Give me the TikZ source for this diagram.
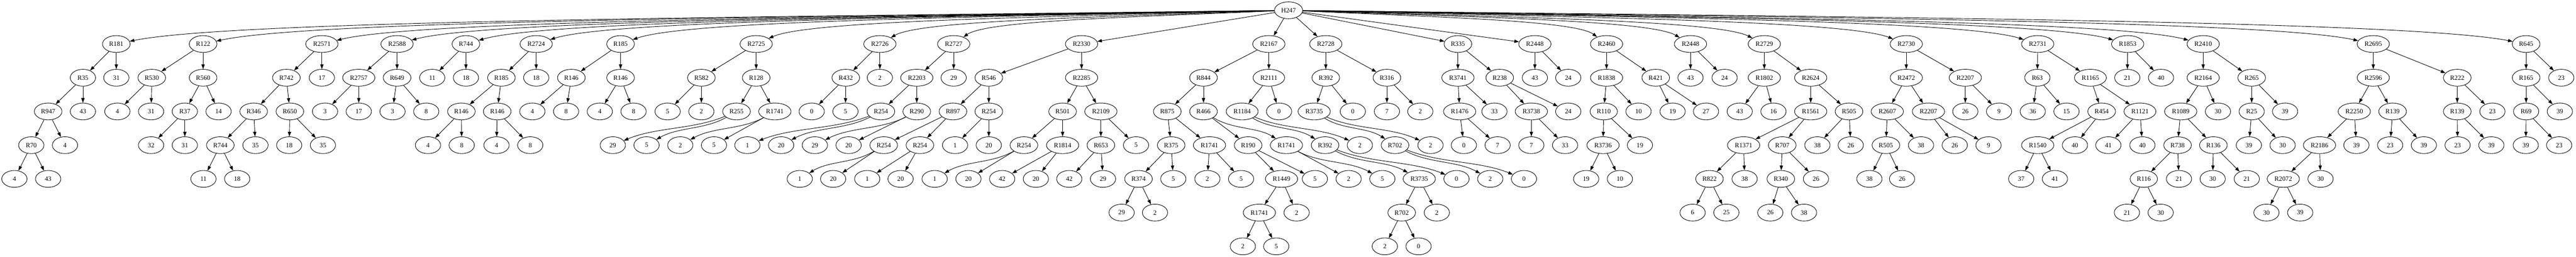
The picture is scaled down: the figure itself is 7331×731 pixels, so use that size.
\documentclass[tikz,border=0pt]{standalone}
\usepackage{fontspec}
\setmainfont{Liberation Serif}
\usetikzlibrary{arrows.meta,shapes.geometric,calc}
\tikzset{
  nd/.style={ellipse, draw, line width=1pt, minimum width=54pt, minimum height=36pt,
             inner xsep=5.7pt, inner ysep=0pt, font=\fontsize{14pt}{16pt}\selectfont},
  edg/.style={draw, line width=1pt, -{Triangle[length=10pt,width=7pt]}}
}
\newcommand\Nd[4]{\node[nd] (#1) at (#2,{29.3+96*#3}) {#4};}
\newcommand\EdS[2]{\draw[edg] (#1) -- (#2);}
\newcommand\EdC[2]{\draw[edg] (#1) .. controls ($(#1)!0.35!(#2)+(0,18)$) and ($(#1)!0.65!(#2)+(0,-18)$) .. (#2);}
\newcommand\EdR[1]{\draw[edg] (H) .. controls ($(H)!0.45!(#1)+(0,-24)$) and ($(#1)!0.1!(H)+(0,-58)$) .. (#1);}
\begin{document}
\begin{tikzpicture}[x=0.75pt,y=-0.75pt]
\path[fill=white] (0,0) rectangle (7331,731);
\useasboundingbox (0,0) rectangle (7331,731);
% level 0
\Nd{H}{3667}{0}{H247}
% level 1
\Nd{a181}{331}{1}{R181}
\Nd{a122}{578}{1}{R122}
\Nd{a2571}{916}{1}{R2571}
\Nd{a2588}{1130}{1}{R2588}
\Nd{a744}{1326}{1}{R744}
\Nd{a2724}{1526}{1}{R2724}
\Nd{a185}{1766}{1}{R185}
\Nd{a2725}{2152}{1}{R2725}
\Nd{a2726}{2504}{1}{R2726}
\Nd{a2727}{2714}{1}{R2727}
\Nd{a2330}{3078}{1}{R2330}
\Nd{a2167}{3611}{1}{R2167}
\Nd{a2728}{3773}{1}{R2728}
\Nd{a335}{4149}{1}{R335}
\Nd{a2448}{4368}{1}{R2448}
\Nd{a2460}{4572}{1}{R2460}
\Nd{a2448b}{4811}{1}{R2448}
\Nd{a2729}{5021}{1}{R2729}
\Nd{a2730}{5425}{1}{R2730}
\Nd{a2731}{5799}{1}{R2731}
\Nd{a1853}{6055}{1}{R1853}
\Nd{a2410}{6270}{1}{R2410}
\Nd{a2695}{6754}{1}{R2695}
\Nd{a645}{7189}{1}{R645}
% level 2
\Nd{b35}{236}{2}{R35}
\Nd{b31}{331}{2}{31}
\Nd{b530}{432}{2}{R530}
\Nd{b560}{578}{2}{R560}
\Nd{b742}{815}{2}{R742}
\Nd{b17}{916}{2}{17}
\Nd{b2757}{1021}{2}{R2757}
\Nd{b649}{1130}{2}{R649}
\Nd{b11}{1230}{2}{11}
\Nd{b18}{1326}{2}{18}
\Nd{b185}{1427}{2}{R185}
\Nd{b18b}{1526}{2}{18}
\Nd{b146}{1626}{2}{R146}
\Nd{b146b}{1766}{2}{R146}
\Nd{b582}{1996}{2}{R582}
\Nd{b128}{2152}{2}{R128}
\Nd{b432}{2407}{2}{R432}
\Nd{b2}{2504}{2}{2}
\Nd{b2203}{2609}{2}{R2203}
\Nd{b29}{2714}{2}{29}
\Nd{b546}{2814}{2}{R546}
\Nd{b2285}{3078}{2}{R2285}
\Nd{b844}{3425}{2}{R844}
\Nd{b2111}{3611}{2}{R2111}
\Nd{b392}{3773}{2}{R392}
\Nd{b316}{3947}{2}{R316}
\Nd{b3741}{4149}{2}{R3741}
\Nd{b238}{4268}{2}{R238}
\Nd{b43}{4368}{2}{43}
\Nd{b24}{4463}{2}{24}
\Nd{b1838}{4572}{2}{R1838}
\Nd{b421}{4712}{2}{R421}
\Nd{b43b}{4811}{2}{43}
\Nd{b24b}{4908}{2}{24}
\Nd{b1802}{5021}{2}{R1802}
\Nd{b2624}{5153}{2}{R2624}
\Nd{b2472}{5425}{2}{R2472}
\Nd{b2207}{5593}{2}{R2207}
\Nd{b63}{5798}{2}{R63}
\Nd{b1165}{5949}{2}{R1165}
\Nd{b21}{6054}{2}{21}
\Nd{b40}{6150}{2}{40}
\Nd{b2164}{6270}{2}{R2164}
\Nd{b265}{6408}{2}{R265}
\Nd{b2596}{6754}{2}{R2596}
\Nd{b222}{6993}{2}{R222}
\Nd{b165}{7189}{2}{R165}
\Nd{b23}{7289}{2}{23}
% level 3
\Nd{c947}{137}{3}{R947}
\Nd{c43}{236}{3}{43}
\Nd{c4}{334}{3}{4}
\Nd{c31}{430}{3}{31}
\Nd{c37}{526}{3}{R37}
\Nd{c14}{622}{3}{14}
\Nd{c346}{722}{3}{R346}
\Nd{c650}{825}{3}{R650}
\Nd{c3}{925}{3}{3}
\Nd{c17}{1021}{3}{17}
\Nd{c3b}{1117}{3}{3}
\Nd{c8}{1213}{3}{8}
\Nd{c146}{1313}{3}{R146}
\Nd{c146b}{1415}{3}{R146}
\Nd{c4b}{1515}{3}{4}
\Nd{c8b}{1611}{3}{8}
\Nd{c4c}{1707}{3}{4}
\Nd{c8c}{1803}{3}{8}
\Nd{c5}{1900}{3}{5}
\Nd{c2}{1996}{3}{2}
\Nd{c255}{2096}{3}{R255}
\Nd{c1741}{2205}{3}{R1741}
\Nd{c0}{2310}{3}{0}
\Nd{c5b}{2406}{3}{5}
\Nd{c254}{2507}{3}{R254}
\Nd{c290}{2609}{3}{R290}
\Nd{c897}{2712}{3}{R897}
\Nd{c254b}{2814}{3}{R254}
\Nd{c501}{3024}{3}{R501}
\Nd{c2109}{3133}{3}{R2109}
\Nd{c875}{3322}{3}{R875}
\Nd{c466}{3425}{3}{R466}
\Nd{c1184}{3535}{3}{R1184}
\Nd{c0b}{3640}{3}{0}
\Nd{c3735}{3740}{3}{R3735}
\Nd{c0c}{3850}{3}{0}
\Nd{c7}{3947}{3}{7}
\Nd{c2b}{4042}{3}{2}
\Nd{c1476}{4154}{3}{R1476}
\Nd{c33}{4253}{3}{33}
\Nd{c3738}{4358}{3}{R3738}
\Nd{c24}{4463}{3}{24}
\Nd{c110}{4564}{3}{R110}
\Nd{c10}{4663}{3}{10}
\Nd{c19}{4760}{3}{19}
\Nd{c27}{4855}{3}{27}
\Nd{c43b}{4951}{3}{43}
\Nd{c16}{5047}{3}{16}
\Nd{c1561}{5153}{3}{R1561}
\Nd{c505}{5262}{3}{R505}
\Nd{c2607}{5371}{3}{R2607}
\Nd{c2207}{5488}{3}{R2207}
\Nd{c26}{5593}{3}{26}
\Nd{c9}{5689}{3}{9}
\Nd{c36}{5785}{3}{36}
\Nd{c15}{5881}{3}{15}
\Nd{c454}{5981}{3}{R454}
\Nd{c1121}{6090}{3}{R1121}
\Nd{c1089}{6206}{3}{R1089}
\Nd{c30}{6312}{3}{30}
\Nd{c25}{6408}{3}{R25}
\Nd{c39}{6503}{3}{39}
\Nd{c2250}{6700}{3}{R2250}
\Nd{c139}{6809}{3}{R139}
\Nd{c139b}{6993}{3}{R139}
\Nd{c23}{7093}{3}{23}
\Nd{c69}{7189}{3}{R69}
\Nd{c39b}{7285}{3}{39}
% level 4
\Nd{d70}{89}{4}{R70}
\Nd{d4}{185}{4}{4}
\Nd{d32}{430}{4}{32}
\Nd{d31}{526}{4}{31}
\Nd{d744}{627}{4}{R744}
\Nd{d35}{727}{4}{35}
\Nd{d18}{823}{4}{18}
\Nd{d35b}{919}{4}{35}
\Nd{d4b}{1218}{4}{4}
\Nd{d8}{1314}{4}{8}
\Nd{d4c}{1413}{4}{4}
\Nd{d8b}{1509}{4}{8}
\Nd{d29}{1744}{4}{29}
\Nd{d5}{1840}{4}{5}
\Nd{d2}{1936}{4}{2}
\Nd{d5b}{2032}{4}{5}
\Nd{d1}{2127}{4}{1}
\Nd{d20}{2223}{4}{20}
\Nd{d29b}{2319}{4}{29}
\Nd{d20b}{2415}{4}{20}
\Nd{d254}{2515}{4}{R254}
\Nd{d254b}{2618}{4}{R254}
\Nd{d1b}{2718}{4}{1}
\Nd{d20c}{2814}{4}{20}
\Nd{d254c}{2914}{4}{R254}
\Nd{d1814}{3024}{4}{R1814}
\Nd{d653}{3133}{4}{R653}
\Nd{d5c}{3233}{4}{5}
\Nd{d375}{3333}{4}{R375}
\Nd{d1741}{3442}{4}{R1741}
\Nd{d190}{3552}{4}{R190}
\Nd{d1741b}{3661}{4}{R1741}
\Nd{d392}{3771}{4}{R392}
\Nd{d2b}{3870}{4}{2}
\Nd{d702}{3970}{4}{R702}
\Nd{d2c}{4071}{4}{2}
\Nd{d0}{4166}{4}{0}
\Nd{d7}{4262}{4}{7}
\Nd{d7b}{4358}{4}{7}
\Nd{d33}{4454}{4}{33}
\Nd{d3736}{4562}{4}{R3736}
\Nd{d19}{4667}{4}{19}
\Nd{d1371}{4962}{4}{R1371}
\Nd{d707}{5072}{4}{R707}
\Nd{d38}{5172}{4}{38}
\Nd{d26}{5267}{4}{26}
\Nd{d505}{5367}{4}{R505}
\Nd{d38b}{5467}{4}{38}
\Nd{d26b}{5563}{4}{26}
\Nd{d9}{5659}{4}{9}
\Nd{d1540}{5799}{4}{R1540}
\Nd{d40}{5905}{4}{40}
\Nd{d41}{6000}{4}{41}
\Nd{d40b}{6097}{4}{40}
\Nd{d738}{6197}{4}{R738}
\Nd{d136}{6299}{4}{R136}
\Nd{d39}{6400}{4}{39}
\Nd{d30}{6496}{4}{30}
\Nd{d2186}{6601}{4}{R2186}
\Nd{d39b}{6706}{4}{39}
\Nd{d23}{6802}{4}{23}
\Nd{d39c}{6898}{4}{39}
\Nd{d23b}{6994}{4}{23}
\Nd{d39d}{7090}{4}{39}
\Nd{d39e}{7188}{4}{39}
\Nd{d23c}{7283}{4}{23}
% level 5
\Nd{e4}{41}{5}{4}
\Nd{e43}{137}{5}{43}
\Nd{e11}{579}{5}{11}
\Nd{e18}{675}{5}{18}
\Nd{e1}{2276}{5}{1}
\Nd{e20}{2371}{5}{20}
\Nd{e1b}{2468}{5}{1}
\Nd{e20b}{2563}{5}{20}
\Nd{e1c}{2660}{5}{1}
\Nd{e20c}{2756}{5}{20}
\Nd{e42}{2852}{5}{42}
\Nd{e20d}{2948}{5}{20}
\Nd{e42b}{3043}{5}{42}
\Nd{e29}{3139}{5}{29}
\Nd{e374}{3240}{5}{R374}
\Nd{e5}{3339}{5}{5}
\Nd{e2}{3436}{5}{2}
\Nd{e5b}{3532}{5}{5}
\Nd{e1449}{3647}{5}{R1449}
\Nd{e5c}{3742}{5}{5}
\Nd{e2b}{3838}{5}{2}
\Nd{e5d}{3934}{5}{5}
\Nd{e3735}{4039}{5}{R3735}
\Nd{e0}{4145}{5}{0}
\Nd{e2c}{4241}{5}{2}
\Nd{e0b}{4337}{5}{0}
\Nd{e19}{4514}{5}{19}
\Nd{e10}{4610}{5}{10}
\Nd{e822}{4865}{5}{R822}
\Nd{e38}{4965}{5}{38}
\Nd{e340}{5068}{5}{R340}
\Nd{e26}{5168}{5}{26}
\Nd{e38b}{5320}{5}{38}
\Nd{e26b}{5413}{5}{26}
\Nd{e37}{5752}{5}{37}
\Nd{e41}{5848}{5}{41}
\Nd{e116}{6101}{5}{R116}
\Nd{e21}{6201}{5}{21}
\Nd{e30}{6297}{5}{30}
\Nd{e21b}{6394}{5}{21}
\Nd{e2072}{6498}{5}{R2072}
\Nd{e30b}{6604}{5}{30}
% level 6
\Nd{f29}{3192}{6}{29}
\Nd{f2}{3287}{6}{2}
\Nd{f1741}{3584}{6}{R1741}
\Nd{f2b}{3690}{6}{2}
\Nd{f702}{3989}{6}{R702}
\Nd{f2c}{4089}{6}{2}
\Nd{f6}{4817}{6}{6}
\Nd{f25}{4913}{6}{25}
\Nd{f26}{5038}{6}{26}
\Nd{f38}{5134}{6}{38}
\Nd{f21}{6053}{6}{21}
\Nd{f30}{6149}{6}{30}
\Nd{f30b}{6450}{6}{30}
\Nd{f39}{6546}{6}{39}
% level 7
\Nd{g2}{3537}{7}{2}
\Nd{g5}{3632}{7}{5}
\Nd{g2b}{3941}{7}{2}
\Nd{g0}{4037}{7}{0}
% ---- edges from the root
\EdR{a181}\EdR{a122}\EdR{a2571}\EdR{a2588}\EdR{a744}\EdR{a2724}\EdR{a185}
\EdR{a2725}\EdR{a2726}\EdR{a2727}
\EdS{H}{a2330}\EdS{H}{a2167}\EdS{H}{a2728}\EdS{H}{a335}\EdS{H}{a2448}
\EdR{a2460}\EdR{a2448b}\EdR{a2729}\EdR{a2730}\EdR{a2731}\EdR{a1853}
\EdR{a2410}\EdR{a2695}\EdR{a645}
% ---- level 1 -> 2
\EdS{a181}{b35}\EdS{a181}{b31}\EdS{a122}{b530}\EdS{a122}{b560}
\EdS{a2571}{b742}\EdS{a2571}{b17}\EdS{a2588}{b2757}\EdS{a2588}{b649}
\EdS{a744}{b11}\EdS{a744}{b18}\EdS{a2724}{b185}\EdS{a2724}{b18b}
\EdS{a185}{b146}\EdS{a185}{b146b}\EdS{a2725}{b582}\EdS{a2725}{b128}
\EdS{a2726}{b432}\EdS{a2726}{b2}\EdS{a2727}{b2203}\EdS{a2727}{b29}
\EdS{a2330}{b546}\EdS{a2330}{b2285}\EdS{a2167}{b844}\EdS{a2167}{b2111}
\EdS{a2728}{b392}\EdS{a2728}{b316}\EdS{a335}{b3741}\EdS{a335}{b238}
\EdS{a2448}{b43}\EdS{a2448}{b24}\EdS{a2460}{b1838}\EdS{a2460}{b421}
\EdS{a2448b}{b43b}\EdS{a2448b}{b24b}\EdS{a2729}{b1802}\EdS{a2729}{b2624}
\EdS{a2730}{b2472}\EdS{a2730}{b2207}\EdS{a2731}{b63}\EdS{a2731}{b1165}
\EdS{a1853}{b21}\EdS{a1853}{b40}\EdS{a2410}{b2164}\EdS{a2410}{b265}
\EdS{a2695}{b2596}\EdS{a2695}{b222}\EdS{a645}{b165}\EdS{a645}{b23}
% ---- level 2 -> 3
\EdS{b35}{c947}\EdS{b35}{c43}\EdS{b530}{c4}\EdS{b530}{c31}
\EdS{b560}{c37}\EdS{b560}{c14}\EdS{b742}{c346}\EdS{b742}{c650}
\EdS{b2757}{c3}\EdS{b2757}{c17}\EdS{b649}{c3b}\EdS{b649}{c8}
\EdS{b185}{c146}\EdS{b185}{c146b}\EdS{b146}{c4b}\EdS{b146}{c8b}
\EdS{b146b}{c4c}\EdS{b146b}{c8c}\EdS{b582}{c5}\EdS{b582}{c2}
\EdS{b128}{c255}\EdS{b128}{c1741}\EdS{b432}{c0}\EdS{b432}{c5b}
\EdS{b2203}{c254}\EdS{b2203}{c290}\EdS{b546}{c897}\EdS{b546}{c254b}
\EdS{b2285}{c501}\EdS{b2285}{c2109}\EdS{b844}{c875}\EdS{b844}{c466}
\EdS{b2111}{c1184}\EdS{b2111}{c0b}\EdS{b392}{c3735}\EdS{b392}{c0c}
\EdS{b316}{c7}\EdS{b316}{c2b}\EdS{b3741}{c1476}\EdS{b3741}{c33}
\EdS{b238}{c3738}\EdS{b238}{c24}\EdS{b1838}{c110}\EdS{b1838}{c10}
\EdS{b421}{c19}\EdS{b421}{c27}\EdS{b1802}{c43b}\EdS{b1802}{c16}
\EdS{b2624}{c1561}\EdS{b2624}{c505}\EdS{b2472}{c2607}\EdS{b2472}{c2207}
\EdS{b2207}{c26}\EdS{b2207}{c9}\EdS{b63}{c36}\EdS{b63}{c15}
\EdS{b1165}{c454}\EdS{b1165}{c1121}\EdS{b2164}{c1089}\EdS{b2164}{c30}
\EdS{b265}{c25}\EdS{b265}{c39}\EdS{b2596}{c2250}\EdS{b2596}{c139}
\EdS{b222}{c139b}\EdS{b222}{c23}\EdS{b165}{c69}\EdS{b165}{c39b}
% ---- level 3 -> 4
\EdS{c947}{d70}\EdS{c947}{d4}\EdS{c37}{d32}\EdS{c37}{d31}
\EdS{c346}{d744}\EdS{c346}{d35}\EdS{c650}{d18}\EdS{c650}{d35b}
\EdS{c146}{d4b}\EdS{c146}{d8}\EdS{c146b}{d4c}\EdS{c146b}{d8b}
\EdC{c255}{d29}\EdC{c255}{d5}\EdC{c1741}{d2}\EdS{c1741}{d5b}
\EdC{c254}{d1}\EdC{c254}{d20}\EdC{c290}{d29b}\EdS{c290}{d20b}
\EdS{c897}{d254}\EdS{c897}{d254b}\EdS{c254b}{d1b}\EdS{c254b}{d20c}
\EdS{c501}{d254c}\EdS{c501}{d1814}\EdS{c2109}{d653}\EdS{c2109}{d5c}
\EdS{c875}{d375}\EdS{c875}{d1741}\EdS{c466}{d190}\EdC{c466}{d1741b}
\EdC{c1184}{d392}\EdC{c1184}{d2b}\EdC{c3735}{d702}\EdC{c3735}{d2c}
\EdS{c1476}{d0}\EdS{c1476}{d7}\EdS{c3738}{d7b}\EdS{c3738}{d33}
\EdS{c110}{d3736}\EdS{c110}{d19}\EdS{c1561}{d1371}\EdS{c1561}{d707}
\EdS{c505}{d38}\EdS{c505}{d26}\EdS{c2607}{d505}\EdS{c2607}{d38b}
\EdS{c2207}{d26b}\EdS{c2207}{d9}\EdS{c454}{d1540}\EdS{c454}{d40}
\EdS{c1121}{d41}\EdS{c1121}{d40b}\EdS{c1089}{d738}\EdS{c1089}{d136}
\EdS{c25}{d39}\EdS{c25}{d30}\EdS{c2250}{d2186}\EdS{c2250}{d39b}
\EdS{c139}{d23}\EdS{c139}{d39c}\EdS{c139b}{d23b}\EdS{c139b}{d39d}
\EdS{c69}{d39e}\EdS{c69}{d23c}
% ---- level 4 -> 5
\EdS{d70}{e4}\EdS{d70}{e43}\EdS{d744}{e11}\EdS{d744}{e18}
\EdC{d254}{e1}\EdS{d254}{e20}\EdS{d254b}{e1b}\EdS{d254b}{e20b}
\EdC{d254c}{e1c}\EdS{d254c}{e20c}\EdS{d1814}{e42}\EdS{d1814}{e20d}
\EdS{d653}{e42b}\EdS{d653}{e29}\EdS{d375}{e374}\EdS{d375}{e5}
\EdS{d1741}{e2}\EdS{d1741}{e5b}\EdS{d190}{e1449}\EdS{d190}{e5c}
\EdS{d1741b}{e2b}\EdC{d1741b}{e5d}\EdC{d392}{e3735}\EdC{d392}{e0}
\EdC{d702}{e2c}\EdC{d702}{e0b}\EdS{d3736}{e19}\EdS{d3736}{e10}
\EdS{d1371}{e822}\EdS{d1371}{e38}\EdS{d707}{e340}\EdS{d707}{e26}
\EdS{d505}{e38b}\EdS{d505}{e26b}\EdS{d1540}{e37}\EdS{d1540}{e41}
\EdS{d738}{e116}\EdS{d738}{e21}\EdS{d136}{e30}\EdS{d136}{e21b}
\EdS{d2186}{e2072}\EdS{d2186}{e30b}
% ---- level 5 -> 6
\EdS{e374}{f29}\EdS{e374}{f2}\EdS{e1449}{f1741}\EdS{e1449}{f2b}
\EdS{e3735}{f702}\EdS{e3735}{f2c}\EdS{e822}{f6}\EdS{e822}{f25}
\EdS{e340}{f26}\EdS{e340}{f38}\EdS{e116}{f21}\EdS{e116}{f30}
\EdS{e2072}{f30b}\EdS{e2072}{f39}
% ---- level 6 -> 7
\EdS{f1741}{g2}\EdS{f1741}{g5}\EdS{f702}{g2b}\EdS{f702}{g0}
\end{tikzpicture}
\end{document}
